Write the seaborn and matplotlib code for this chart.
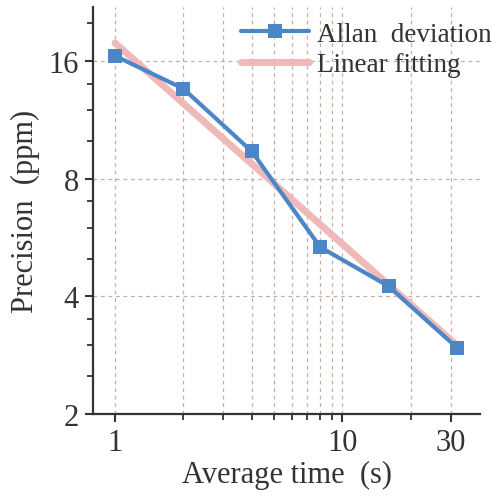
import numpy as np
import pandas as pd
import matplotlib
matplotlib.use("Agg")
import matplotlib.pyplot as plt
import seaborn as sns
from matplotlib.ticker import FixedLocator, FixedFormatter, NullFormatter

# values
avg_time = [1, 2, 4, 8, 16, 32]
allan_dev = [16.5, 13.6, 9.4, 5.35, 4.25, 2.96]
fit_time = [1, 32]
fit_prec = [17.8, 3.0]

x_major = [1, 10, 30]
x_minor = [2, 3, 4, 5, 6, 7, 8, 9, 20]
y_major = [2, 4, 8, 16]
y_minor = [2.5, 3, 3.5, 5, 6, 7, 10, 12, 14, 20]

BLUE = "#4d86c6"
PINK = "#efb9b9"
GRID = "#c2aea8"
INK = "#333333"

sns.set_style("ticks")
plt.rcParams["font.family"] = ["Liberation Serif", "DejaVu Serif"]

fig = plt.figure(figsize=(4.92, 5.02), dpi=100)
ax = fig.add_axes([0.189, 0.173, 0.787, 0.811])

df_allan = pd.DataFrame({"t": avg_time, "p": allan_dev})
df_fit = pd.DataFrame({"t": fit_time, "p": fit_prec})

sns.lineplot(data=df_fit, x="t", y="p", ax=ax, color=PINK, lw=5,
             solid_capstyle="round", label="Linear fitting", zorder=2)
sns.lineplot(data=df_allan, x="t", y="p", ax=ax, color=BLUE, lw=3,
             marker="s", markersize=10, markeredgewidth=0,
             label="Allan  deviation", zorder=3)

ax.set_xscale("log")
ax.set_yscale("log", base=2)
ax.set_xlim(0.8, 40.5)
ax.set_ylim(2, 22)

ax.xaxis.set_major_locator(FixedLocator(x_major))
ax.xaxis.set_major_formatter(FixedFormatter([str(v) for v in x_major]))
ax.xaxis.set_minor_locator(FixedLocator(x_minor))
ax.xaxis.set_minor_formatter(NullFormatter())
ax.yaxis.set_major_locator(FixedLocator(y_major))
ax.yaxis.set_major_formatter(FixedFormatter([str(v) for v in y_major]))
ax.yaxis.set_minor_locator(FixedLocator(y_minor))
ax.yaxis.set_minor_formatter(NullFormatter())

grid_kw = dict(color=GRID, lw=0.9, linestyle=(0, (3, 3)))
ax.grid(axis="x", which="both", **grid_kw)
ax.grid(axis="y", which="major", **grid_kw)
ax.set_axisbelow(True)

sns.despine(ax=ax)
for s in ["left", "bottom"]:
    ax.spines[s].set_color(INK)
    ax.spines[s].set_linewidth(1.6)
ax.tick_params(which="major", length=6, width=1.5, color=INK,
               labelsize=22, labelcolor=INK, pad=4)
ax.tick_params(which="minor", length=4, width=1.3, color=INK)

ax.set_xlabel("Average time  (s)", fontsize=22, color=INK, labelpad=2)
ax.set_ylabel("Precision  (ppm)", fontsize=22, color=INK, labelpad=6)

handles, labels = ax.get_legend_handles_labels()
ax.legend(handles[::-1], labels[::-1], loc="upper right", frameon=False,
          fontsize=19.5, handlelength=2.5, handletextpad=0.3,
          labelspacing=0.2, borderaxespad=0.0, bbox_to_anchor=(1.058, 0.99),
          labelcolor=INK)

fig.savefig("out.png", dpi=100)
